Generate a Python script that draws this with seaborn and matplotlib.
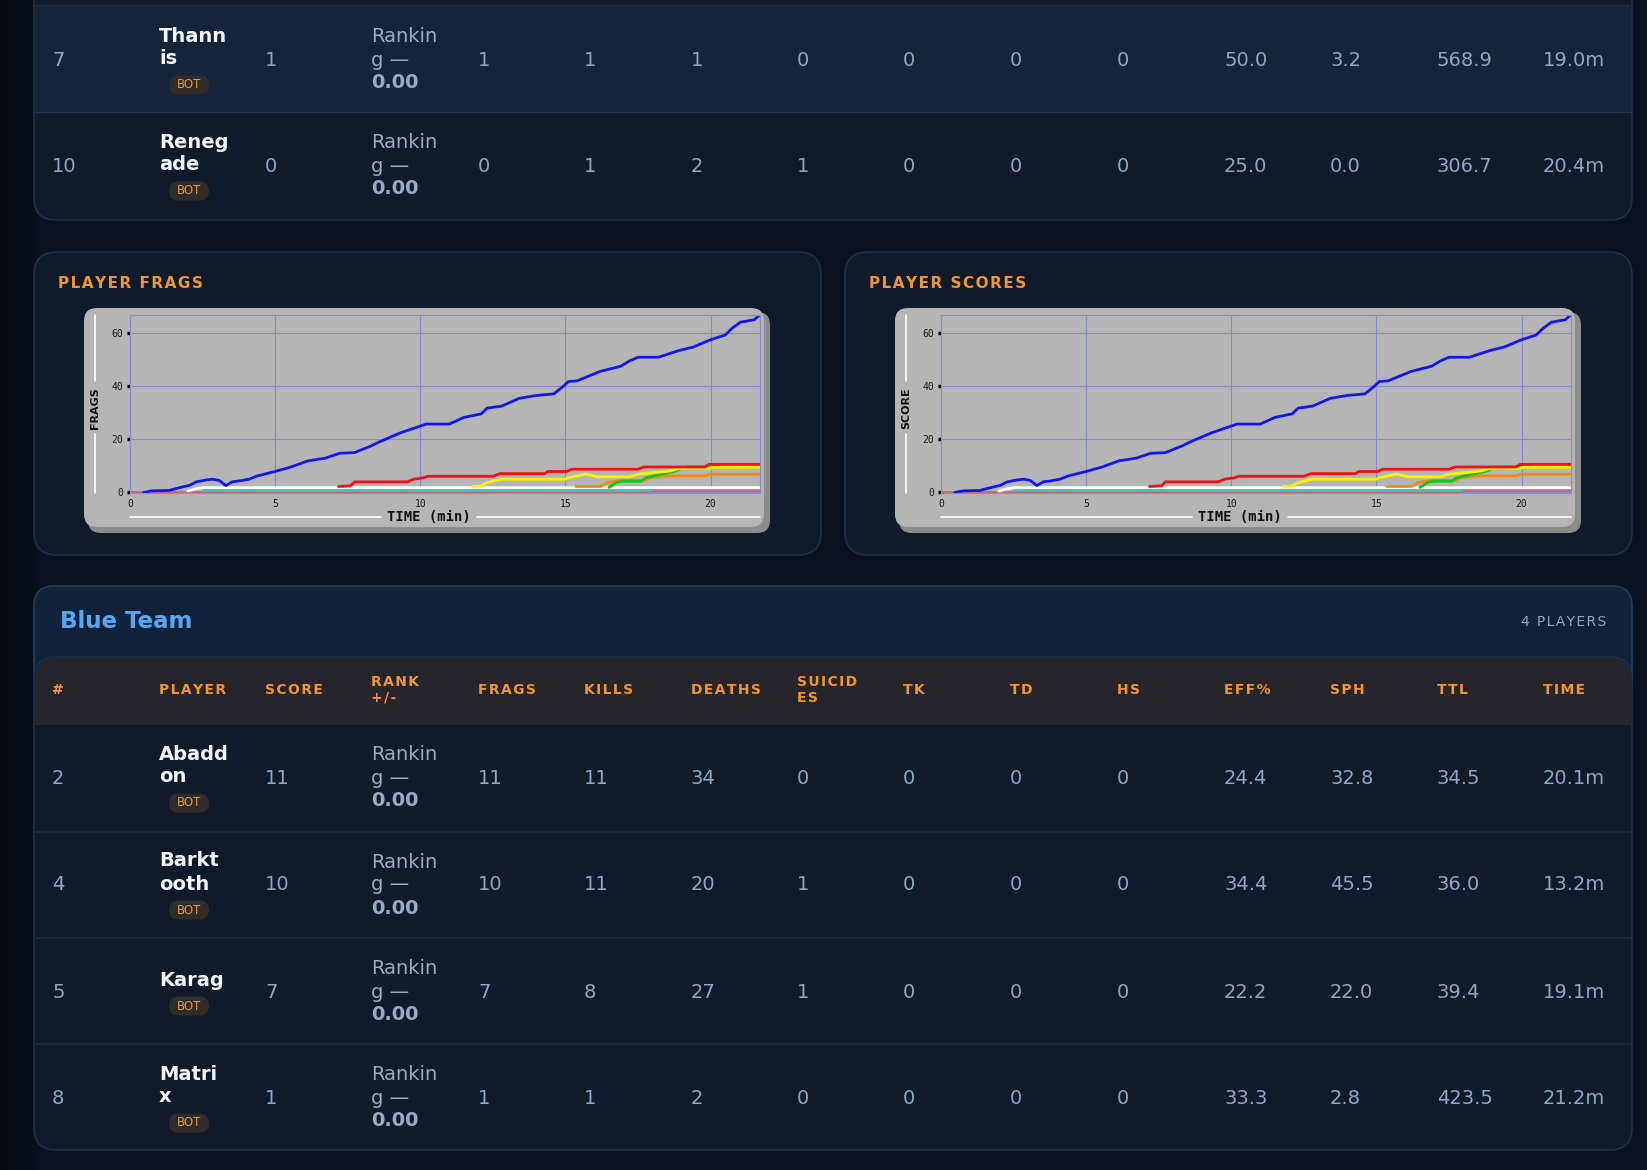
import numpy as np
import pandas as pd
import matplotlib
matplotlib.use("Agg")
import matplotlib.pyplot as plt
from matplotlib.patches import FancyBboxPatch, Rectangle
import seaborn as sns

# ---- chart data (frags over time, minutes) ----
blue_t = [0.47, 0.76, 1.34, 1.63, 2.06, 2.28, 2.65, 2.86, 3.08, 3.30, 3.52, 3.8, 4.1, 4.39, 5.0,
          5.55, 6.13, 6.72, 7.22, 7.73, 8.3, 8.6, 9.33, 10.0, 10.2, 11.0, 11.5, 12.1, 12.3, 12.8,
          13.4, 13.98, 14.6, 14.9, 15.1, 15.4, 16.2, 16.9, 17.2, 17.5, 18.2, 18.9, 19.4, 20.0,
          20.5, 20.75, 21.03, 21.5, 21.7]
blue_v = [0, 0.6, 0.75, 1.6, 2.75, 4, 4.75, 5, 4.5, 2.6, 4, 4.4, 5, 6.25, 7.9,
          9.6, 11.9, 12.9, 14.75, 15, 17.5, 19.1, 22.5, 25, 25.75, 25.75, 28.25, 29.6, 31.75, 32.5,
          35.4, 36.5, 37.1, 39.75, 41.75, 42, 45.6, 47.5, 49.5, 50.9, 50.9, 53.4, 54.75, 57.5,
          59.25, 61.9, 64.1, 65, 66.9]
red_t = [7.18, 7.6, 7.73, 9.55, 9.77, 10.1, 10.25, 12.5, 12.75, 14.27, 14.4, 15.05, 15.2, 17.5,
         17.7, 19.8, 19.95, 21.7]
red_v = [2.25, 2.5, 4, 4, 5, 5.5, 6.1, 6.1, 7.1, 7.1, 7.9, 7.9, 8.75, 8.75, 9.6, 9.6, 10.6, 10.6]
yellow_t = [11.8, 12.1, 12.25, 12.45, 12.8, 15.0, 15.1, 15.7, 16.1, 17.2, 17.5, 18.3, 18.6, 18.9,
            19.9, 20.1, 21.7]
yellow_v = [2.25, 2.5, 3.5, 4.1, 5, 5, 5.6, 6.9, 5.9, 5.9, 6.9, 7.75, 8.1, 9, 9, 9.5, 9.5]
orange_t = [15.36, 16.2, 16.45, 16.9, 17.76, 17.9, 18.6, 19.8, 20.0, 21.7]
orange_v = [2.25, 2.25, 3.75, 4.6, 4.6, 5.6, 6.25, 6.25, 6.9, 6.9]
green_t = [16.5, 16.75, 17.0, 17.6, 17.76, 18.05, 18.4, 18.8, 19.0, 19.2, 19.9, 20.05, 20.3]
green_v = [1.9, 3.75, 4.25, 4.25, 5.5, 6.25, 7.1, 8.1, 9, 9.6, 9.6, 10.25, 10.25]
white_t = [1.99, 2.28, 2.5, 21.7]
white_v = [0.5, 1.4, 1.8, 1.8]
cyan_t = [2.5, 17.9]
cyan_v = [0.85, 0.85]
pink_t = [0, 17.8, 17.9, 21.7]
pink_v = [0, 0, 0.7, 0.7]

series_colors = {"pink": "#c46a78", "cyan": "#3cc4b4", "white": "#ffffff", "orange": "#f08c10",
                 "green": "#10c810", "yellow": "#f4f400", "red": "#f41010", "blue": "#1414f0"}

# ---- table data ----
headers = ["#", "PLAYER", "SCORE", "RANK\n+/-", "FRAGS", "KILLS", "DEATHS", "SUICID\nES",
           "TK", "TD", "HS", "EFF%", "SPH", "TTL", "TIME"]

top_rank = [7, 10]
top_names = ["Thannis", "Renegade"]
top_score = [1, 0]
top_frags = [1, 0]
top_kills = [1, 1]
top_deaths = [1, 2]
top_suicides = [0, 1]
top_tk = [0, 0]
top_td = [0, 0]
top_hs = [0, 0]
top_eff = ["50.0", "25.0"]
top_sph = ["3.2", "0.0"]
top_ttl = ["568.9", "306.7"]
top_time = ["19.0m", "20.4m"]

blue_rank = [2, 4, 5, 8]
blue_names = ["Abaddon", "Barktooth", "Karag", "Matrix"]
blue_score = [11, 10, 7, 1]
blue_frags = [11, 10, 7, 1]
blue_kills = [11, 11, 8, 1]
blue_deaths = [34, 20, 27, 2]
blue_suicides = [0, 1, 1, 0]
blue_tk = [0, 0, 0, 0]
blue_td = [0, 0, 0, 0]
blue_hs = [0, 0, 0, 0]
blue_eff = ["24.4", "34.4", "22.2", "33.3"]
blue_sph = ["32.8", "45.5", "22.0", "2.8"]
blue_ttl = ["34.5", "36.0", "39.4", "423.5"]
blue_time = ["20.1m", "13.2m", "19.1m", "21.2m"]
rank_delta = "0.00"

sns.set_theme(style="white")
plt.rcParams["font.family"] = ["DejaVu Sans"]
plt.rcParams["patch.edgecolor"] = "none"

W, H = 1647, 1170
fig = plt.figure(figsize=(W / 100, H / 100), dpi=100)
fig.patch.set_facecolor("#0b111d")
bg = fig.add_axes([0, 0, 1, 1])
bg.set_xlim(0, W)
bg.set_ylim(H, 0)
bg.axis("off")

# darker strip at the far left
grad = np.linspace(0, 1, 40).reshape(1, -1)
bg.imshow(grad, extent=(0, 40, H, 0), cmap=matplotlib.colors.LinearSegmentedColormap.from_list(
    "g", ["#060a10", "#0b111d"]), aspect="auto", zorder=0)

CARD = "#111a2b"
EDGE = "#1f2f48"
ORANGE = "#f0962e"
VAL = "#8ea6c6"
NAME = "#f2f5f9"


def spaced(s):
    # rough letter spacing with hair spaces
    return "\n".join("\u200a".join(line) for line in s.split("\n"))


def rbox(x0, y0, x1, y1, r, fc, ec="none", lw=1.0, z=1):
    p = FancyBboxPatch((x0, y0), x1 - x0, y1 - y0, boxstyle=f"round,pad=0,rounding_size={r}",
                       fc=fc, ec=ec, lw=lw, zorder=z)
    bg.add_patch(p)


cols_x = [52, 159, 265, 371, 478, 584, 691, 797, 903, 1010, 1117, 1224, 1330, 1437, 1543]


def draw_row(c, rank, name, vals):
    bg.text(cols_x[0], c, str(rank), color=VAL, fontsize=14, va="center", zorder=5)
    parts = [name[i:i + 5] for i in range(0, len(name), 5)]
    if len(parts) == 1:
        ys, by = [c - 12], c + 14
    else:
        ys, by = [c - 24, c - 1], c + 25
    for s, yy in zip(parts, ys):
        bg.text(cols_x[1], yy, s, color=NAME, fontsize=14, fontweight="bold", va="center", zorder=5)
    rbox(169, by - 9.5, 209, by + 9.5, 9.5, "#302c29", z=4)
    bg.text(189, by, "BOT", color=ORANGE, fontsize=8.5, ha="center", va="center", zorder=5)
    bg.text(cols_x[2], c, str(vals[0]), color=VAL, fontsize=14, va="center", zorder=5)
    bg.text(cols_x[3], c - 23, "Rankin", color="#98aac4", fontsize=14, va="center", zorder=5)
    bg.text(cols_x[3], c, "g —", color="#98aac4", fontsize=14, va="center", zorder=5)
    bg.text(cols_x[3], c + 23, rank_delta, color="#98aac4", fontsize=14, fontweight="bold",
            va="center", zorder=5)
    for x, v in zip(cols_x[4:], vals[1:]):
        bg.text(x, c, str(v), color=VAL, fontsize=14, va="center", zorder=5)


# ---- top table (end of red team) ----
rbox(34, -60, 1632, 220, 22, CARD, EDGE, 1.2)
bg.add_patch(Rectangle((35, 5), 1596, 107, fc="#15243a", ec="none", zorder=2))
bg.plot([35, 1631], [5, 5], color="#1c2a40", lw=1, zorder=3)
bg.plot([35, 1631], [112, 112], color="#22324a", lw=1, zorder=3)
for i, c in enumerate([60, 166]):
    vals = [top_score[i], top_frags[i], top_kills[i], top_deaths[i], top_suicides[i], top_tk[i],
            top_td[i], top_hs[i], top_eff[i], top_sph[i], top_ttl[i], top_time[i]]
    draw_row(c, top_rank[i], top_names[i], vals)

# ---- chart cards ----
series = [("pink", pink_t, pink_v), ("cyan", cyan_t, cyan_v), ("white", white_t, white_v),
          ("orange", orange_t, orange_v), ("green", green_t, green_v),
          ("yellow", yellow_t, yellow_v), ("red", red_t, red_v), ("blue", blue_t, blue_v)]
df = pd.concat([pd.DataFrame({"time": t, "value": v, "player": k}) for k, t, v in series],
               ignore_index=True)

for dx, title, ylab in [(0, "PLAYER FRAGS", "FRAGS"), (811, "PLAYER SCORES", "SCORE")]:
    rbox(34 + dx, 252, 821 + dx, 555, 23, CARD, EDGE, 1.2)
    bg.text(58 + dx, 284, spaced(title), color=ORANGE, fontsize=11, fontweight="bold",
            va="center", zorder=5)
    rbox(88 + dx, 312, 770 + dx, 533, 13, "#8c8c8c", z=2)
    rbox(84 + dx, 308, 764 + dx, 527, 13, "#b5b5b5", z=3)
    # axis titles with white rules
    bg.plot([95 + dx, 95 + dx], [315, 381], color="white", lw=1.2, zorder=4)
    bg.plot([95 + dx, 95 + dx], [434, 493], color="white", lw=1.2, zorder=4)
    bg.text(95 + dx, 408, ylab, rotation=90, fontsize=8, fontweight="bold", color="#111111",
            ha="center", va="center", zorder=5)
    bg.plot([130 + dx, 381 + dx], [517, 517], color="white", lw=1.2, zorder=4)
    bg.plot([477 + dx, 760 + dx], [517, 517], color="white", lw=1.2, zorder=4)
    bg.text(429 + dx, 517, "TIME (min)", fontsize=10, fontweight="bold", color="#111111",
            family="DejaVu Sans Mono", ha="center", va="center", zorder=5)

    ax = fig.add_axes([(130 + dx) / W, 1 - 493 / H, 630 / W, 178 / H])
    ax.set_facecolor("#b5b5b5")
    sns.lineplot(data=df, x="time", y="value", hue="player", palette=series_colors,
                 hue_order=[k for k, _, _ in series], estimator=None, sort=False,
                 linewidth=2.0, legend=False, ax=ax)
    ax.set_xlim(0, 21.7)
    ax.set_ylim(-0.2, 66.8)
    ax.set_xticks([0, 5, 10, 15, 20])
    ax.set_yticks([0, 20, 40, 60])
    ax.grid(True, color="#8a8ad2", lw=0.8)
    ax.set_axisbelow(True)
    for s in ax.spines.values():
        s.set_color("#8a8ad2")
        s.set_linewidth(0.8)
    ax.tick_params(axis="y", length=2, width=2.5, color="black", pad=3, labelsize=7,
                   labelcolor="#1a1a1a", left=True)
    ax.tick_params(axis="x", length=0, pad=4, labelsize=7, labelcolor="#1a1a1a")
    for lab in ax.get_xticklabels() + ax.get_yticklabels():
        lab.set_family("DejaVu Sans Mono")
    ax.set_xlabel("")
    ax.set_ylabel("")

# ---- Blue team ----
rbox(34, 586, 1632, 700, 20, "#0f2239", "#1f3c5e", 1.2)
bg.text(60, 622, "Blue Team", color="#53a8f5", fontsize=16.5, fontweight="bold", va="center",
        zorder=5)
bg.text(1606, 622, spaced("4 PLAYERS"), color="#8fa4bf", fontsize=10, ha="right", va="center",
        zorder=5)

rbox(34, 657, 1632, 1150, 22, CARD, EDGE, 1.2, z=2)
rbox(35, 658, 1631, 760, 21, "#25252b", z=3)
bg.add_patch(Rectangle((35, 725), 1596, 40, fc=CARD, ec="none", zorder=3))
for x, h in zip(cols_x, headers):
    bg.text(x, 690, spaced(h), color=ORANGE, fontsize=10, fontweight="bold", va="center",
            linespacing=1.15, zorder=5)
for y in [832, 938, 1044]:
    bg.plot([35, 1631], [y, y], color="#1f2b3d", lw=1.2, zorder=4)
for i, c in enumerate([778, 885, 992, 1098]):
    vals = [blue_score[i], blue_frags[i], blue_kills[i], blue_deaths[i], blue_suicides[i],
            blue_tk[i], blue_td[i], blue_hs[i], blue_eff[i], blue_sph[i], blue_ttl[i],
            blue_time[i]]
    draw_row(c, blue_rank[i], blue_names[i], vals)

fig.savefig("out.png", dpi=100, facecolor=fig.get_facecolor())
